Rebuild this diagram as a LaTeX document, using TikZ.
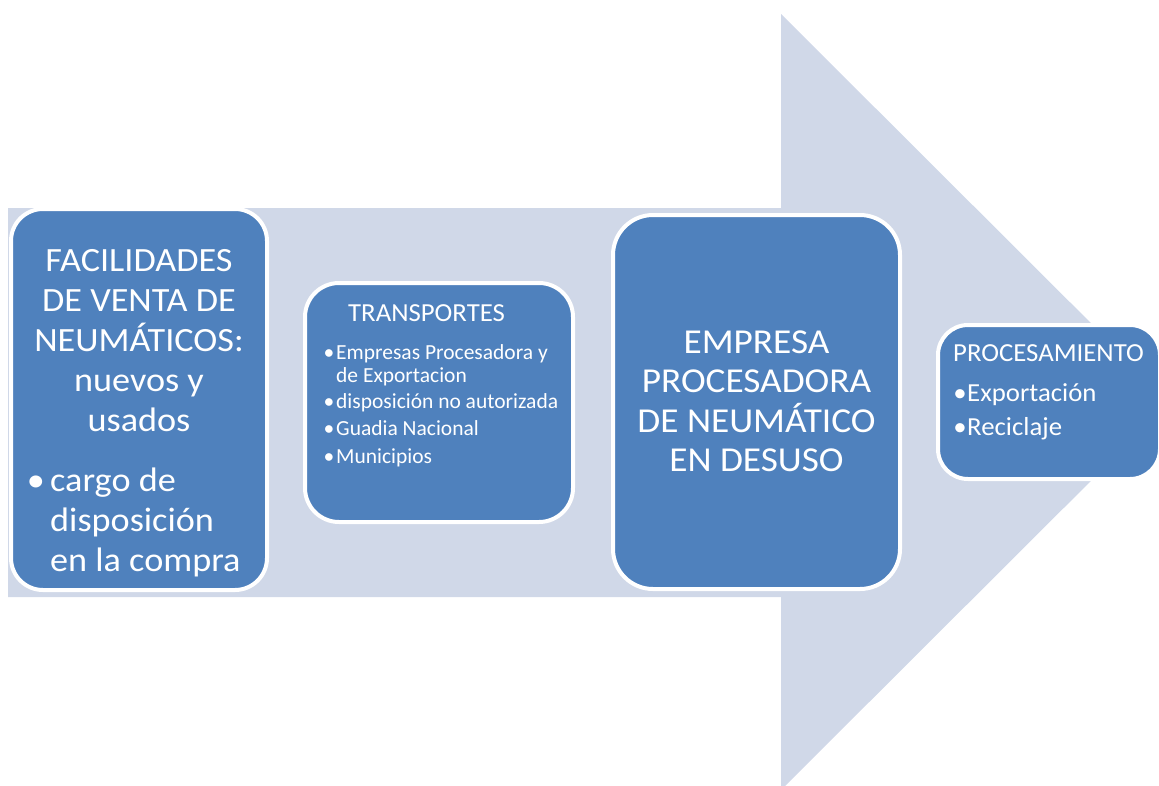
\documentclass[tikz,border=0pt]{standalone}
\usepackage{fontspec}
\setmainfont{Carlito}
\newfontfamily\wideA[FakeStretch=1.065]{Carlito}
\newfontfamily\wideB[FakeStretch=1.03]{Carlito}
\definecolor{boxblue}{HTML}{4F81BD}
\definecolor{arrowcol}{HTML}{D0D8E8}
\begin{document}
\begin{tikzpicture}[x=1pt,y=-1pt,
  box/.style={draw=white,line width=4pt,fill=boxblue,rounded corners=#1,inner sep=0pt,outer sep=0pt},
  txt/.style={text=white,inner sep=0pt,anchor=base},
  txtw/.style={text=white,inner sep=0pt,anchor=base west},
  big/.style={font=\wideA\fontsize{34}{40}\selectfont},
  huge/.style={font=\wideA\fontsize{35}{40}\selectfont},
  mid/.style={font=\wideB\fontsize{26}{30}\selectfont},
  small/.style={font=\fontsize{21.5}{25}\selectfont}]
\useasboundingbox (0,0) rectangle (1159,785);
% big arrow
\fill[arrowcol] (8,208) -- (781,208) -- (781,14) -- (1170,402) -- (781,790) -- (781,597) -- (8,597) -- cycle;
% boxes
\node[box=32pt, minimum width=256pt, minimum height=381pt] (facil) at (139,399.5) {};
\node[box=34pt, minimum width=268pt, minimum height=239pt] (trans) at (439,402.5) {};
\node[box=40pt, minimum width=287pt, minimum height=374pt] (empresa) at (756.5,402) {};
\node[box=30pt, minimum width=222pt, minimum height=154pt] (proc) at (1049,402) {};
% left box text
\node[txt,big] (f1) at (139,271.7) {FACILIDADES};
\node[txt,big] (f2) at (139,311.7) {DE VENTA DE};
\node[txt,big] (f3) at (139,351.7) {NEUMÁTICOS:};
\node[txt,big] (f4) at (139,391.7) {nuevos y};
\node[txt,big] (f5) at (139,431.7) {usados};
\node[txt,big] (fb) at (36,491) {•};
\node[txtw,big] (f6) at (50,491) {cargo de};
\node[txtw,big] (f7) at (50,531) {disposición};
\node[txtw,big] (f8) at (50,571) {en la compra};
% transportes
\node[txtw,mid] (t0) at (348,321.7) {TRANSPORTES};
\node[txt,small] (tb1) at (329,359) {•};
\node[txtw,small] (t1) at (336,359) {Empresas Procesadora y};
\node[txtw,small] (t1b) at (336,382) {de Exportacion};
\node[txt,small] (tb2) at (329,408) {•};
\node[txtw,small] (t2) at (336,408) {disposición no autorizada};
\node[txt,small] (tb3) at (329,435.5) {•};
\node[txtw,small] (t3) at (336,435.5) {Guadia Nacional};
\node[txt,small] (tb4) at (329,463) {•};
\node[txtw,small] (t4) at (336,463) {Municipios};
% empresa
\node[txt,huge] (e1) at (756.5,353.3) {EMPRESA};
\node[txt,huge] (e2) at (756.5,392.7) {PROCESADORA};
\node[txt,huge] (e3) at (756.5,432.7) {DE NEUMÁTICO};
\node[txt,huge] (e4) at (756.5,471.7) {EN DESUSO};
% procesamiento
\node[txtw,mid] (p0) at (953,361.7) {PROCESAMIENTO};
\node[txt,mid] (pb1) at (960,401.7) {•};
\node[txtw,mid] (p1) at (967,401.7) {Exportación};
\node[txt,mid] (pb2) at (960,435) {•};
\node[txtw,mid] (p2) at (967,435) {Reciclaje};
\end{tikzpicture}
\end{document}
